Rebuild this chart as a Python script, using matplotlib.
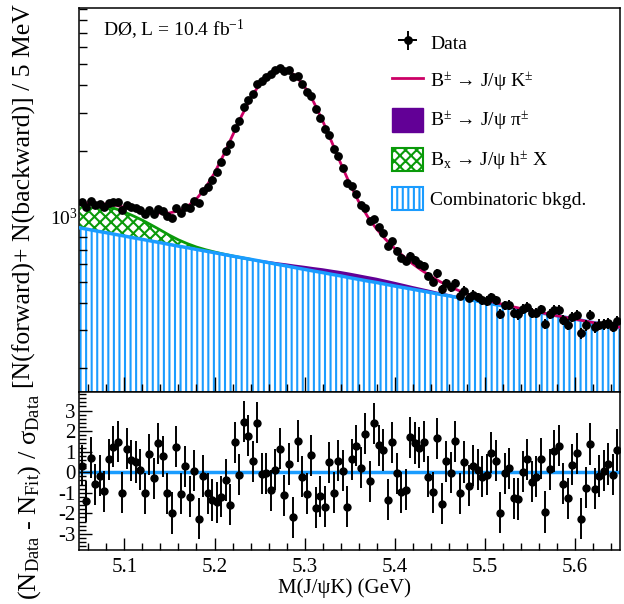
import numpy as np
import matplotlib
matplotlib.use("Agg")
import matplotlib.pyplot as plt
from matplotlib.lines import Line2D
from matplotlib.patches import Patch
from matplotlib.ticker import MultipleLocator, LogLocator, NullFormatter

plt.rcParams['font.family'] = ['Liberation Serif', 'DejaVu Serif']
plt.rcParams['mathtext.fontset'] = 'custom'
plt.rcParams['mathtext.rm'] = 'Liberation Serif'
plt.rcParams['mathtext.it'] = 'Liberation Serif:italic'
plt.rcParams['mathtext.bf'] = 'Liberation Serif:bold'
plt.rcParams['axes.unicode_minus'] = False
plt.rcParams['hatch.linewidth'] = 1.5

# fit components on a 10 MeV grid, 5.05 .. 5.65 GeV
m_curve = np.linspace(5.05, 5.65, 61)
bkg_curve = [884, 869, 853, 839, 824, 810, 795, 782, 768, 755,
             741, 728, 716, 703, 691, 679, 667, 655, 644, 633,
             622, 611, 600, 590, 579, 569, 559, 550, 540, 531,
             521, 512, 503, 495, 486, 477, 469, 461, 453, 445,
             437, 430, 422, 415, 408, 400, 393, 387, 380, 373,
             367, 360, 354, 348, 342, 336, 330, 324, 319, 313, 308]
bx_curve = [262, 266, 270, 270, 258, 235, 207, 176, 142, 108,
            76, 50, 31, 18, 10, 5, 2, 1] + [0] * 43
pi_curve = [0] * 16 + [1.2, 2.4, 4, 6, 8, 10.8, 13.6, 16.4, 19.2, 22,
                       24, 26, 27.4, 28.2, 29, 28.2, 27.4, 26, 24, 22,
                       19, 16, 14, 12, 10, 8.4, 6.8, 5.4, 4.2, 3,
                       2.6, 2.2, 1.8, 1.4, 1, 0.8, 0.6, 0.4, 0.2] + [0] * 6
fit_curve = [1155, 1149, 1144, 1137, 1122, 1100, 1077, 1057, 1041, 1032,
             1035, 1058, 1110, 1202, 1352, 1581, 1911, 2352, 2890, 3483,
             4050, 4498, 4737, 4715, 4437, 3958, 3367, 2760, 2210, 1760,
             1419, 1172, 998, 874, 783, 712, 653, 604, 564, 530,
             501, 477, 457, 440, 425, 412, 402, 393, 384, 376,
             369, 362, 355, 348, 342, 336, 330, 324, 319, 313, 308]

# data: 120 bins of 5 MeV
m_bins = 5.0525 + 0.005 * np.arange(120)
counts = [1164, 1102, 1171, 1125, 1136, 1107, 1154, 1168, 1165, 1072,
          1132, 1102, 1088, 1066, 1020, 1073, 1028, 1078, 1057, 1000,
          976, 1091, 1034, 1104, 1090, 1178, 1155, 1302, 1363, 1463,
          1595, 1768, 1993, 2157, 2551, 2742, 3171, 3437, 3663, 4066,
          4173, 4399, 4520, 4708, 4836, 4669, 4696, 4382, 4433, 4078,
          3752, 3569, 3116, 2845, 2529, 2362, 2042, 1887, 1668, 1429,
          1371, 1270, 1130, 1096, 950, 973, 888, 834, 727, 767,
          695, 642, 619, 658, 628, 602, 590, 533, 500, 545,
          461, 494, 471, 494, 431, 454, 422, 435, 424, 411,
          407, 424, 411, 356, 389, 390, 357, 353, 375, 382,
          358, 359, 372, 320, 356, 369, 370, 333, 317, 344,
          351, 290, 315, 350, 308, 317, 318, 321, 309, 328]
resid = [0.32, -1.42, 0.7, -0.58, -0.17, -0.93, 0.62, 1.25, 1.48, -1.0,
         1.15, 0.58, 0.5, 0.12, -1.02, 0.87, -0.3, 1.4, 0.78, -1.02,
         -1.98, 1.25, -1.05, 0.28, -1.18, 0.08, -2.25, -0.18, -1.02, -1.35,
         -1.47, -1.18, -0.38, -1.58, 1.45, -0.13, 2.45, 1.78, 0.53, 2.4,
         -0.08, -0.05, -0.88, 0.12, 1.15, -1.13, 0.4, -2.18, 1.52, -0.22,
         -1.05, 0.83, -1.72, -1.17, -1.68, 0.48, -1.0, 0.57, 0.08, -1.68,
         0.62, 1.28, 0.23, 1.87, -0.43, 2.37, 1.32, 1.08, -1.33, 1.45,
         -0.05, -0.97, -0.85, 1.7, 1.42, 1.2, 1.48, -0.22, -0.98, 1.65,
         -1.52, 0.53, -0.02, 1.5, -1.02, 0.5, -0.65, 0.32, 0.12, -0.22,
         -0.13, 0.95, 0.57, -1.97, -0.05, 0.2, -1.27, -1.3, 0.03, 0.62,
         -0.47, -0.22, 0.65, -1.93, 0.15, 1.03, 1.28, -0.55, -1.27, 0.37,
         0.92, -2.25, -0.75, 1.37, -0.8, -0.18, 0.08, 0.4, -0.13, 1.08]

blue = '#1a9cff'
green = '#0a9a0a'
purple = '#620096'
pink = '#cc0066'

bkg = np.array(bkg_curve, dtype=float)
bx = np.array(bx_curve, dtype=float)
pi = np.array(pi_curve, dtype=float)
counts = np.array(counts, dtype=float)

fig = plt.figure(figsize=(6.24, 6.04), dpi=100)
ax = fig.add_axes([0.1274, 0.351, 0.8654, 0.6358])
axr = fig.add_axes([0.1274, 0.0894, 0.8654, 0.2616])

# top panel
ax.fill_between(m_curve, 1, bkg, facecolor='white', edgecolor=blue,
                hatch='|||', linewidth=0, zorder=1)
ax.fill_between(m_curve, bkg, bkg + bx, facecolor='white', edgecolor=green,
                hatch='xxx', linewidth=0, zorder=2)
ax.plot(m_curve[:20], (bkg + bx)[:20], color=green, lw=2, zorder=3)
ax.fill_between(m_curve, bkg, bkg + pi, facecolor=purple, edgecolor='none',
                linewidth=0, zorder=2)
ax.plot(m_curve, bkg, color=blue, lw=2.5, zorder=3)
ax.plot(m_curve, fit_curve, color=pink, lw=2, zorder=4)
data = ax.errorbar(m_bins, counts, yerr=np.sqrt(counts), xerr=0.0025, fmt='o',
                   color='k', ms=5.3, elinewidth=1.4, capsize=0, zorder=5)

ax.set_yscale('log')
ax.set_xlim(5.05, 5.65)
ax.set_ylim(155, 9100)
ax.xaxis.set_major_locator(MultipleLocator(0.1))
ax.xaxis.set_minor_locator(MultipleLocator(0.02))
ax.yaxis.set_major_locator(LogLocator(base=10))
ax.yaxis.set_minor_locator(LogLocator(base=10, subs=np.arange(2, 10)))
ax.yaxis.set_minor_formatter(NullFormatter())
ax.tick_params(which='both', direction='in', top=False, right=False,
               labelbottom=False, labelsize=14, pad=1.5)
ax.tick_params(which='major', length=11, width=1)
ax.tick_params(which='minor', length=6, width=1)

ax.text(0.0435, 0.943, r'DØ, L = 10.4 fb$^{-1}$', transform=ax.transAxes,
        fontsize=14, va='center', ha='left')

handles = [data,
           Line2D([], [], color=pink, lw=2),
           Patch(facecolor=purple, edgecolor=purple),
           Patch(facecolor='white', edgecolor=green, hatch='xxx', lw=1.5),
           Patch(facecolor='white', edgecolor=blue, hatch='|||', lw=1.5)]
labels = ['Data',
          r'B$^{\pm}$ → J/ψ K$^{\pm}$',
          r'B$^{\pm}$ → J/ψ π$^{\pm}$',
          r'B$_{\mathrm{x}}$ → J/ψ h$^{\pm}$ X',
          'Combinatoric bkgd.']
ax.legend(handles, labels, loc='upper left', bbox_to_anchor=(0.579, 0.939),
          frameon=False, fontsize=14, handlelength=1.6, handleheight=1.45,
          handletextpad=0.35, labelspacing=0.75, borderpad=0, borderaxespad=0)

# residual panel
axr.axhline(0, color=blue, lw=2.5, zorder=1)
axr.errorbar(m_bins, resid, yerr=np.ones(len(resid)), fmt='o', color='k',
             ms=5, elinewidth=1.4, capsize=0, zorder=3)
axr.set_xlim(5.05, 5.65)
axr.set_ylim(-3.78, 3.9)
axr.xaxis.set_major_locator(MultipleLocator(0.1))
axr.xaxis.set_minor_locator(MultipleLocator(0.02))
axr.yaxis.set_major_locator(MultipleLocator(1))
axr.yaxis.set_minor_locator(MultipleLocator(0.2))
axr.tick_params(which='both', direction='in', top=False, right=False,
                labelsize=15)
axr.tick_params(axis='x', which='both', pad=6)
axr.tick_params(axis='y', which='both', pad=3)
axr.tick_params(which='major', length=9, width=1)
axr.tick_params(which='minor', length=5, width=1)

for a in (ax, axr):
    for s in a.spines.values():
        s.set_linewidth(1.1)

fig.text(24 / 624, 1 - 196 / 604, '[N(forward)+ N(backward)] / 5 MeV',
         rotation=90, ha='center', va='center', fontsize=18.5)
fig.text(30 / 624, 1 - 497 / 604,
         r'(N$_{\mathrm{Data}}$ - N$_{\mathrm{Fit}}$) / σ$_{\mathrm{Data}}$',
         rotation=90, ha='center', va='center', fontsize=19)
fig.text(345 / 624, 1 - 588 / 604, 'M(J/ψK) (GeV)', ha='center', va='center',
         fontsize=15)

fig.savefig('out.png', dpi=100)
